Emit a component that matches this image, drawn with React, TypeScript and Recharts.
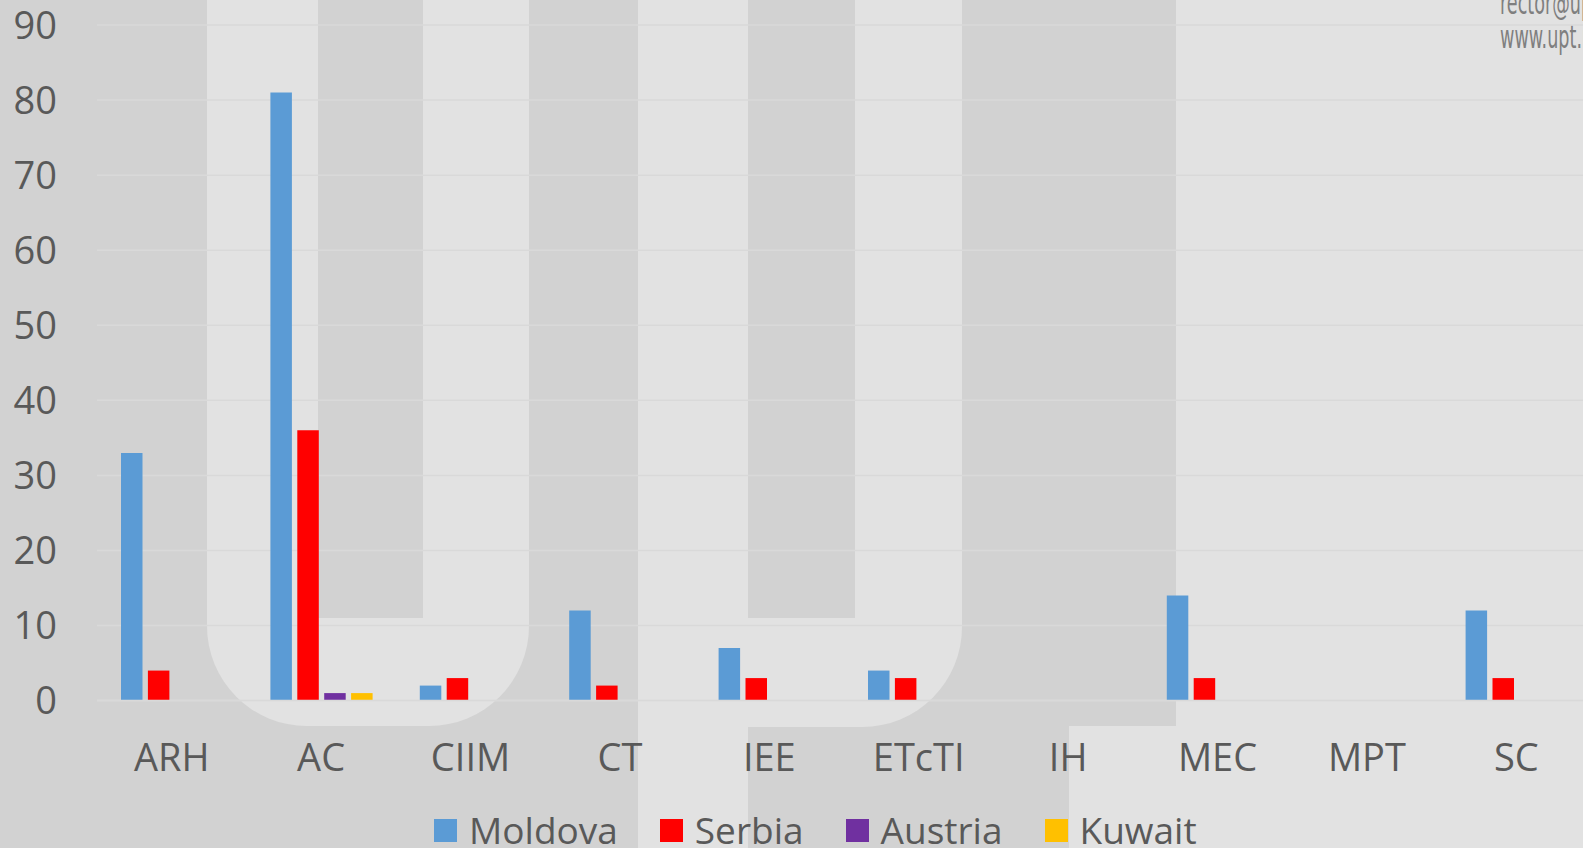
import { Bar, BarChart, CartesianGrid, Legend, XAxis, YAxis } from 'recharts'

const categories = ['ARH', 'AC', 'CIIM', 'CT', 'IEE', 'ETcTI', 'IH', 'MEC', 'MPT', 'SC']
const moldova = [33, 81, 2, 12, 7, 4, 0, 14, 0, 12]
const serbia = [4, 36, 3, 2, 3, 3, 0, 3, 0, 3]
const austria = [0, 1, 0, 0, 0, 0, 0, 0, 0, 0]
const kuwait = [0, 1, 0, 0, 0, 0, 0, 0, 0, 0]
const yTicks = [0, 10, 20, 30, 40, 50, 60, 70, 80, 90]

const series = [
  { key: 'Moldova', values: moldova, color: '#5b9bd5' },
  { key: 'Serbia', values: serbia, color: '#ff0000' },
  { key: 'Austria', values: austria, color: '#7030a0' },
  { key: 'Kuwait', values: kuwait, color: '#ffc000' },
]

const data = categories.map((name, i) => {
  const row: Record<string, string | number> = { name }
  series.forEach((s) => {
    row[s.key] = s.values[i]
  })
  return row
})

const FONT = '"Open Sans", "Noto Sans", sans-serif'
const TEXT = '#595959'
const DARK = '#d2d2d2'
const LIGHT = '#e2e2e2'

// watermark shapes behind the chart (UPT logo)
const shape = (style: React.CSSProperties) => (
  <div style={{ position: 'absolute', ...style }} />
)

function ChartLegend() {
  return (
    <div style={{ display: 'flex', alignItems: 'center', height: 40, fontFamily: FONT, fontSize: 37, color: TEXT }}>
      {series.map((s) => (
        <div key={s.key} style={{ display: 'flex', alignItems: 'center', marginRight: 42 }}>
          <span style={{ width: 23, height: 23, background: s.color, marginRight: 12, display: 'inline-block' }} />
          <span style={{ lineHeight: '40px' }}>{s.key}</span>
        </div>
      ))}
    </div>
  )
}

export default function App() {
  return (
    <div
      style={{
        position: 'fixed',
        left: 0,
        top: 0,
        width: 1583,
        height: 848,
        overflow: 'hidden',
        background: DARK,
      }}
    >
      {shape({ left: 207, top: 0, width: 322, height: 726, background: LIGHT, borderRadius: '0 0 100px 100px' })}
      {shape({ left: 318, top: 0, width: 105, height: 618, background: DARK })}
      {shape({ left: 638, top: 0, width: 110, height: 848, background: LIGHT })}
      {shape({ left: 638, top: 0, width: 324, height: 727, background: LIGHT, borderRadius: '0 0 100px 0' })}
      {shape({ left: 748, top: 0, width: 107, height: 618, background: DARK })}
      {shape({ left: 1176, top: 0, width: 420, height: 848, background: LIGHT })}
      {shape({ left: 1069, top: 726, width: 120, height: 122, background: LIGHT })}
      <div
        style={{
          position: 'absolute',
          left: 1500,
          top: -14,
          fontFamily: '"DejaVu Sans", sans-serif',
          fontSize: 32,
          lineHeight: '34px',
          color: '#7f7f7f',
          transform: 'scaleX(0.55)',
          transformOrigin: 'left top',
          whiteSpace: 'nowrap',
        }}
      >
        <div>rector@upt.ro</div>
        <div>www.upt.ro</div>
      </div>
      <div style={{ position: 'absolute', left: 0, top: 0 }}>
        <BarChart
          width={1600}
          height={848}
          data={data}
          margin={{ top: 25, right: 9, left: 0, bottom: 0 }}
          barSize={21.5}
          barGap={5.4}
        >
          <CartesianGrid vertical={false} stroke="#d9d9d9" strokeWidth={1.5} />
          <XAxis
            dataKey="name"
            height={147.4}
            tickLine={false}
            tickSize={0}
            tickMargin={43}
            axisLine={{ stroke: '#d9d9d9', strokeWidth: 1.5 }}
            tick={{ fill: TEXT, fontSize: 38, fontFamily: FONT }}
            interval={0}
          />
          <YAxis
            width={97}
            domain={[0, 90]}
            ticks={yTicks}
            interval={0}
            axisLine={false}
            tickLine={false}
            tickSize={0}
            tickMargin={40}
            tick={{ fill: TEXT, fontSize: 38, fontFamily: FONT }}
          />
          <Legend
            layout="horizontal"
            verticalAlign="middle"
            align="center"
            wrapperStyle={{ left: 434, top: 810, bottom: 'auto', width: 'auto' }}
            content={() => <ChartLegend />}
          />
          {series.map((s) => (
            <Bar key={s.key} dataKey={s.key} fill={s.color} isAnimationActive={false} />
          ))}
        </BarChart>
      </div>
    </div>
  )
}
